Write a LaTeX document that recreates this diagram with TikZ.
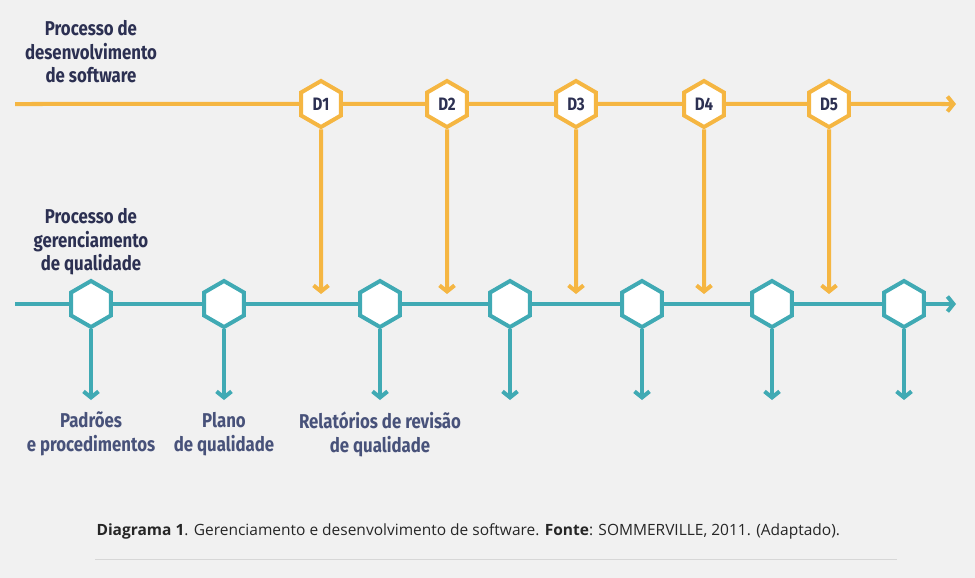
\documentclass[tikz,border=0pt]{standalone}
\usepackage{fontspec}
\setmainfont{Open Sans}
\newfontfamily\labelfont[FakeStretch=0.84]{Fira Sans}
\usetikzlibrary{shapes.geometric, arrows.meta, positioning}
\definecolor{bgray}{RGB}{241, 241, 241}
\definecolor{dorange}{RGB}{245, 182, 66}
\definecolor{qteal}{RGB}{64, 170, 180}
\definecolor{ink}{RGB}{44, 48, 82}
\definecolor{inksoft}{RGB}{72, 82, 122}
\definecolor{rulegray}{RGB}{215, 215, 215}

\tikzset{
    hexnode/.style={regular polygon, regular polygon sides=6, shape border rotate=30,
        minimum size=46pt, inner sep=0pt, line width=4pt, fill=white},
    devhex/.style={hexnode, draw=dorange, text=ink,
        font=\labelfont\fontsize{18}{18}\selectfont\bfseries},
    qualhex/.style={hexnode, draw=qteal},
    devline/.style={draw=dorange, line width=4pt},
    qualline/.style={draw=qteal, line width=4pt},
    tipped/.style={-{Straight Barb[length=6pt, width=15pt, line width=4pt]}},
    proclabel/.style={align=center, text=ink,
        font=\labelfont\fontsize{20}{23.5}\selectfont\bfseries},
    outlabel/.style={align=center, text=inksoft,
        font=\labelfont\fontsize{20}{24}\selectfont\bfseries}
}

\begin{document}
\begin{tikzpicture}[x=1pt, y=-1pt]
    % Background and page size
    \fill[bgray] (0,0) rectangle (975,578);
    \useasboundingbox (0,0) rectangle (975,578);

    % Process titles
    \node[proclabel] (devtitle) at (91,52) {Processo de\\desenvolvimento\\de software};
    \node[proclabel] (qualtitle) at (91,242) {Processo de\\gerenciamento\\de qualidade};

    % Development process line
    \coordinate (devstart) at (15,104);
    \coordinate (devend) at (956,104);
    \foreach \i/\x in {1/321, 2/447, 3/576, 4/704, 5/829} {
        \node[devhex] (d\i) at (\x,104) {D\i};
        \coordinate (dt\i) at (\x,294);
    }
    \draw[devline] (devstart) -- (d1);
    \foreach \a/\b in {1/2, 2/3, 3/4, 4/5}
        \draw[devline] (d\a) -- (d\b);
    \draw[devline, tipped] (d5) -- (devend);
    \foreach \i in {1,...,5}
        \draw[devline, tipped] (d\i) -- (dt\i);

    % Quality management line
    \coordinate (qualstart) at (15,304);
    \coordinate (qualend) at (956,304);
    \foreach \i/\x in {1/91, 2/224, 3/380, 4/510, 5/642, 6/772, 7/904} {
        \node[qualhex] (q\i) at (\x,304) {};
        \coordinate (qt\i) at (\x,400);
    }
    \draw[qualline] (qualstart) -- (q1);
    \foreach \a/\b in {1/2, 2/3, 3/4, 4/5, 5/6, 6/7}
        \draw[qualline] (q\a) -- (q\b);
    \draw[qualline, tipped] (q7) -- (qualend);
    \foreach \i in {1,...,7}
        \draw[qualline, tipped] (q\i) -- (qt\i);

    % Outputs
    \node[outlabel] (padroes) at (91,434) {Padrões\\e procedimentos};
    \node[outlabel] (plano) at (224,434) {Plano\\de qualidade};
    \node[outlabel] (relatorios) at (380,434) {Relatórios de revisão\\de qualidade};

    % Caption
    \node[anchor=west, font=\fontsize{15.5}{17}\selectfont, text=black!85] (caption) at (93,531)
        {\textbf{Diagrama 1}. Gerenciamento e desenvolvimento de software. \textbf{Fonte}: SOMMERVILLE, 2011. (Adaptado).};
    \draw[rulegray, line width=1pt] (95,559) -- (897,559);
\end{tikzpicture}
\end{document}
